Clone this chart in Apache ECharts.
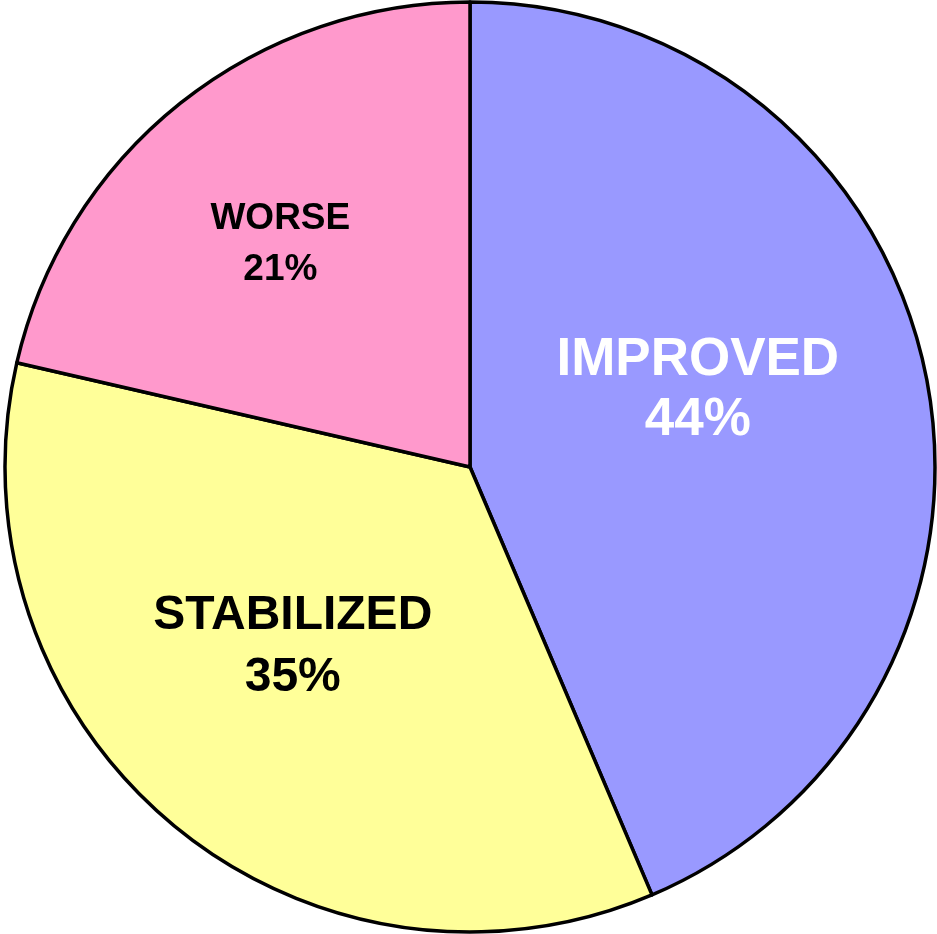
<html>
<head>
<meta charset="utf-8">
<title>Outcome</title>
<script src="https://cdn.jsdelivr.net/npm/echarts@6/dist/echarts.min.js"></script>
<style>
  html, body { margin: 0; padding: 0; background: #fff; }
  #main { width: 937px; height: 934px; }
</style>
</head>
<body>
<div id="main"></div>
<script>
// values (slice angles), labels show rounded percents
var names = ['IMPROVED', 'STABILIZED', 'WORSE'];
var values = [43.6, 35.0, 21.4];
var colors = ['#9999ff', '#ffff99', '#ff99cc'];

// label look per slice
var labelColor = ['#ffffff', '#000000', '#000000'];
var labelSize = [53, 48, 37];
var labelLine = [60, 62, 51];
var labelShift = [[-3, -30], [-26, -1], [-43, -38]];

var myChart = echarts.init(document.getElementById('main'));

var data = [];
for (var i = 0; i < names.length; i++) {
  data.push({
    name: names[i],
    value: values[i],
    itemStyle: { color: colors[i] },
    label: {
      color: labelColor[i],
      fontSize: labelSize[i],
      lineHeight: labelLine[i],
      offset: labelShift[i]
    }
  });
}

var option = {
  animation: false,
  series: [{
    type: 'pie',
    center: [470, 467],
    radius: 465,
    startAngle: 90,
    clockwise: true,
    percentPrecision: 0,
    avoidLabelOverlap: false,
    silent: true,
    itemStyle: { borderColor: '#000', borderWidth: 3.5 },
    label: {
      show: true,
      position: 'inside',
      formatter: '{b}\n{d}%',
      fontFamily: 'Arial, "Liberation Sans", sans-serif',
      fontWeight: 'bold',
      align: 'center'
    },
    labelLine: { show: false },
    emphasis: { disabled: true },
    data: data
  }]
};

myChart.setOption(option);
</script>
</body>
</html>
